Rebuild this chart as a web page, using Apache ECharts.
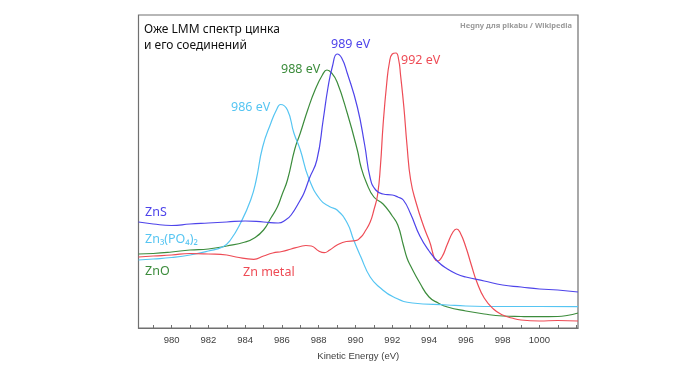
<!DOCTYPE html>
<html>
<head>
<meta charset="utf-8">
<script src="https://cdn.jsdelivr.net/npm/echarts@6/dist/echarts.min.js"></script>
<style>html,body{margin:0;padding:0;background:#fff}#c{width:700px;height:372px}</style>
</head>
<body>
<div id="c"></div>
<script>
// ---- data (intensity in arbitrary units vs kinetic energy, eV) ----
const energyZnS = [978.2,979,980,981,982,983,984,985,985.8,986.2,986.5,987,987.2,987.5,987.9,988.25,988.5,988.75,989,989.25,989.55,990.1,990.5,990.8,991.1,991.5,992,992.3,992.6,993,993.5,994,994.5,995,995.5,996,997,998,999,1000,1001,1002.1];
const intensityZnS = [106,104,102.5,104,105,106,107,106,105,108,113,128,135,150,168,209,240,262,274,270,255,221,183,150,138,134,133,131,128,114,92,77,66,59,54,51,47,43,41,39,38,36];

const energyZnO = [978.2,979,980,981,982,983,984,984.5,985,985.4,985.75,986,986.3,986.7,987,987.4,987.8,988.2,988.45,988.7,989,989.55,990.1,990.3,990.6,991,991.5,992,992.3,992.6,992.8,993,993.5,994,994.5,995,996,997,998,999,1000,1001,1001.5,1002.1];
const intensityZnO = [74,74.5,76,78,79,82,86,90,98,110,121,133,148,179,195,218,238,253,258,255,246,215,178,161,145,131,124,112,103,83,70,62,45,31,25,21,17,14,12,11.5,11.3,11.5,12.5,15];

const energyZnPO = [978.2,979,980,981,982,982.8,983.2,983.75,984.3,984.6,984.95,985.4,985.7,985.92,986.3,986.65,987,987.45,988.1,988.6,989,989.55,989.9,990.27,990.8,991.36,992.07,993.1,995,996,998,1000,1002.1];
const intensityZnPO = [68,69,70.5,73,77,81.3,88,105,128,148,181,205,218,223.5,218,195,178,150,128,121.3,118,105,88,72,51,40,31,25,23,22,21.5,21.5,21.3];

const energyZn = [978.2,979,980,981,982,983,983.5,984.47,985,985.5,986,986.5,987,987.3,987.6,988,988.3,988.6,989,989.5,990,990.3,990.5,990.8,991,991.2,991.36,991.5,991.7,991.85,992,992.2,992.35,992.45,992.63,992.8,993,993.3,993.7,994,994.47,994.7,995,995.3,995.5,995.7,996,996.3,996.6,997,997.5,998,998.5,999,1000,1001,1002.1];
const intensityZn = [71,72,73,74.5,74,73,71,68.7,72,75,76.5,79,81.5,82.5,82,77,75.3,78,83,86.5,87.3,91,96,106,118,133,163,203,245,266,274,275,268,253,221,183,148,125,102,88,67,71,84,96,99,95,81,63,46,30,19,13,10,8,7,7.5,7];

const tickValues = [979,980,981,982,983,984,985,986,987,988,989,990,991,992,993,994,995,996,997,998,999,1000,1001,1002];
const tickLabels = [980,982,984,986,988,990,992,994,996,998,1000];

const colors = { ZnS: '#4e44ea', ZnO: '#3c8c3c', ZnPO: '#56c5f2', Zn: '#ee4c56' };

function pairs(xs, ys) { return xs.map((x, i) => [x, ys[i]]); }

const chart = echarts.init(document.getElementById('c'));
const FONT = '"Noto Sans", sans-serif';

function lineSeries(name, xs, ys, color) {
  return {
    name, type: 'line', data: pairs(xs, ys), symbol: 'none',
    smooth: 0.5,
    lineStyle: { color, width: 1.2 }, itemStyle: { color },
    silent: true
  };
}

function txt(text, x, y, color, size, opts) {
  return {
    type: 'text', x, y, silent: true,
    style: Object.assign({ text, fill: color, font: size + 'px ' + FONT, align: 'left', verticalAlign: 'middle' }, (opts || {}))
  };
}

chart.setOption({
  animation: false,
  backgroundColor: '#fff',
  grid: { left: 138.5, right: 122, top: 15, bottom: 44, show: true, borderColor: '#707070', borderWidth: 1.2, backgroundColor: 'transparent' },
  xAxis: {
    type: 'value', min: 978.2, max: 1002.1,
    name: 'Kinetic Energy (eV)', nameLocation: 'middle', nameGap: 23,
    nameTextStyle: { fontFamily: '"Liberation Sans", Arial, sans-serif', fontSize: 9.5, color: '#404040' },
    axisLine: { show: true, lineStyle: { color: '#707070', width: 1.2 } },
    axisTick: { show: true, inside: true, length: 3, customValues: tickValues, lineStyle: { color: '#707070', width: 1 } },
    axisLabel: { customValues: tickLabels, margin: 7, formatter: v => String(v), fontFamily: '"Liberation Sans", Arial, sans-serif', fontSize: 9.5, color: '#404040' },
    splitLine: { show: false }
  },
  yAxis: { type: 'value', min: 0, max: 313, show: false, splitLine: { show: false } },
  series: [
    lineSeries('ZnO', energyZnO, intensityZnO, colors.ZnO),
    lineSeries('Zn3(PO4)2', energyZnPO, intensityZnPO, colors.ZnPO),
    lineSeries('Zn metal', energyZn, intensityZn, colors.Zn),
    lineSeries('ZnS', energyZnS, intensityZnS, colors.ZnS)
  ],
  graphic: [
    txt('Оже LMM спектр цинка', 144, 30, '#111', 12),
    txt('и его соединений', 144, 45.5, '#111', 12),
    txt('Hegny для pikabu / Wikipedia', 572, 25.7, '#9a9a9a', 7.5, { align: 'right', font: 'bold 7.5px ' + FONT }),
    txt('989 eV', 331, 44.7, colors.ZnS, 12.5),
    txt('988 eV', 281, 69.2, colors.ZnO, 12.5),
    txt('986 eV', 231, 107, colors.ZnPO, 12.5),
    txt('992 eV', 401, 60.7, colors.Zn, 12.5),
    txt('ZnS', 145, 212.8, colors.ZnS, 12.5),
    txt('Zn₃(PO₄)₂', 145, 239.5, colors.ZnPO, 12.5),
    txt('ZnO', 145, 271.2, colors.ZnO, 12.5),
    txt('Zn metal', 243, 272.5, colors.Zn, 12.5)
  ]
});
</script>
</body>
</html>
